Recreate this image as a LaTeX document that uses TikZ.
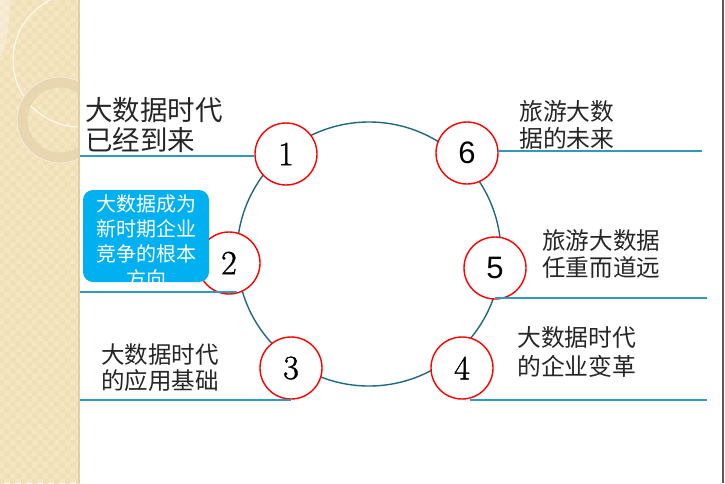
\documentclass[tikz,border=0pt]{standalone}
\usepackage{fontspec}
\usepackage{tikz}
\usetikzlibrary{positioning,patterns}
\newfontfamily\cjk{Noto Sans CJK SC}
\newfontfamily\arial{Liberation Sans}
\newfontfamily\numserif[FakeBold=1.2]{Latin Modern Roman}
\definecolor{ringteal}{HTML}{21687F}
\definecolor{leaderblue}{HTML}{3399BB}
\definecolor{boxcyan}{HTML}{00B0F0}
\definecolor{bandtan}{HTML}{F5E6C0}
\definecolor{bandedge}{HTML}{D8C79E}

\begin{document}
\begin{tikzpicture}[x=1pt,y=-1pt,semithick]
		\tikzstyle{numcircle}=[circle,draw=red,line width=1.4pt,fill=white,minimum size=62pt,inner sep=0pt,text=black,font=\numserif\fontsize{34}{34}\selectfont]
		\tikzstyle{numsans}=[font=\arial\fontsize{31}{31}\selectfont]
		\tikzstyle{leader}=[draw=leaderblue,line width=1.6pt]
		\tikzstyle{caption}=[anchor=west,align=left,inner sep=0pt,text=black!85]
		\tikzstyle{infobox}=[rectangle,rounded corners=10pt,fill=boxcyan,minimum width=126pt,minimum height=92pt,inner sep=0pt]

		\useasboundingbox (0,0) rectangle (725,483);
		\fill[white] (0,0) rectangle (725,483);

		% left band
		\fill[bandtan] (0,0) rectangle (80,483);
		\fill[pattern=checkerboard,pattern color=bandedge!18!bandtan] (0,0) rectangle (80,483);
		\fill[bandedge!70!bandtan] (78,0) rectangle (80,483);
		\begin{scope}
			\clip (0,0) rectangle (78,483);
			\fill[white,opacity=0.3] (0,0) -- (63,0) arc[start angle=-105,end angle=-180,radius=67pt] .. controls (10,45) and (5,52) .. (0,56) -- cycle;
			\draw[white,line width=1pt,opacity=0.9] (80,60) circle[radius=67pt];
			\draw[bandedge!50!bandtan,line width=11pt] (60,120) circle[radius=38pt];
			\draw[white,line width=0.8pt,opacity=0.6] (60,120) circle[radius=43pt];
		\end{scope}
		\draw[black!65,line width=1.5pt] (723,0) -- (723,483);

		\node[circle,draw=ringteal,line width=1.4pt,minimum size=264pt,inner sep=0pt] (ring) at (369,254) {};

		\node[numcircle] (c1) at (286,154) {1};
		\node[numcircle] (c2) at (229,263) {2};
		\node[numcircle] (c3) at (291,368) {3};
		\node[numcircle] (c4) at (462,368) {4};
		\node[numcircle,numsans] (c5) at (495,268) {5};
		\node[numcircle,numsans] (c6) at (467,153) {6};

		\coordinate (e1) at (80,156);
		\coordinate (e2) at (80,292);
		\coordinate (e3) at (80,400);
		\coordinate (e4) at (707,400);
		\coordinate (e5) at (707,298);
		\coordinate (e6) at (702,151);

		\draw[leader] (e1) -- (e1 -| c1.west);
		\draw[leader] (e2) -- (e2 -| c2.-75);
		\draw[leader] (e3) -- (e3 -| c3.south);
		\draw[leader] (e4) -- (e4 -| c4.-75);
		\draw[leader] (e5) -- (e5 -| c5.south);
		\draw[leader] (e6) -- (e6 -| c6.east);

		\node[infobox] (b2) at (146,236) {};
		\node[align=center,inner sep=0pt,text=white,font=\cjk\fontsize{20}{25}\selectfont] (t2) at ([yshift=-5.5pt]b2.center) {大数据成为\\新时期企业\\竞争的根本\\方向};

		\node[caption,font=\cjk\fontsize{27.5}{30}\selectfont] (t1) at (85,125) {大数据时代\\已经到来};
		\node[caption,font=\cjk\fontsize{23.5}{26}\selectfont] (t3) at (101,368) {大数据时代\\的应用基础};
		\node[caption,font=\cjk\fontsize{23.8}{29}\selectfont] (t4) at (517,351.5) {大数据时代\\的企业变革};
		\node[caption,font=\cjk\fontsize{23.6}{27}\selectfont] (t5) at (542,254.5) {旅游大数据\\任重而道远};
		\node[caption,font=\cjk\fontsize{23.8}{27}\selectfont] (t6) at (519,124.5) {旅游大数\\据的未来};
	\end{tikzpicture}
\end{document}
